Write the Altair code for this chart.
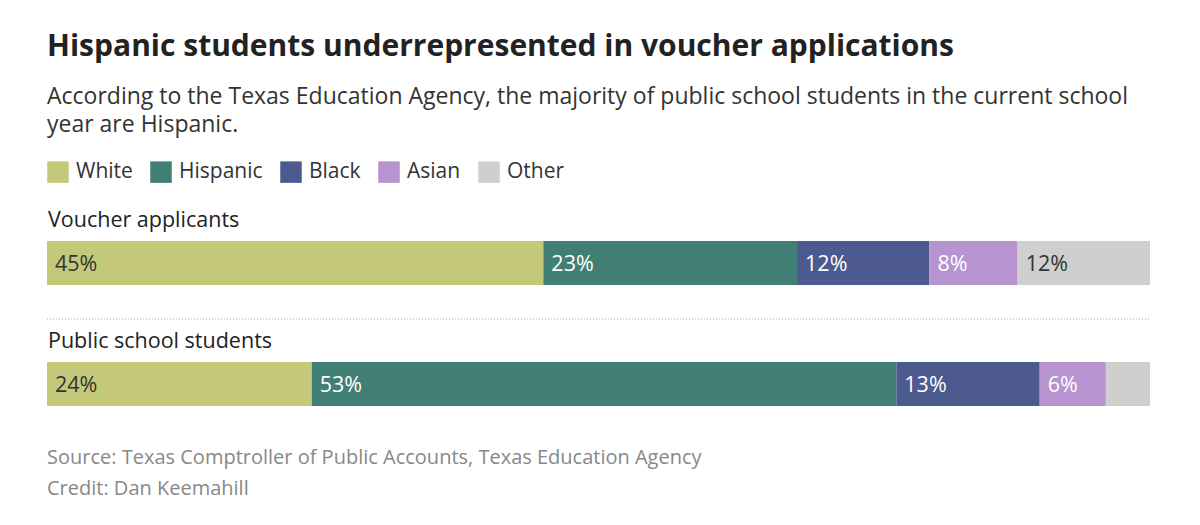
import altair as alt
import pandas as pd

groups = ["Voucher applicants", "Public school students"]
races = ["White", "Hispanic", "Black", "Asian", "Other"]
voucher = [45, 23, 12, 8, 12]
public = [24, 53, 13, 6, 4]
colors = ["#c3c979", "#417f74", "#4c5a8f", "#b793cf", "#cfcfcf"]

title = "Hispanic students underrepresented in voucher applications"
subtitle = [
    "According to the Texas Education Agency, the majority of public school students in the current school",
    "year are Hispanic.",
]
source = "Source: Texas Comptroller of Public Accounts, Texas Education Agency"
credit = "Credit: Dan Keemahill"

rows = []
for g, vals in zip(groups, [voucher, public]):
    start = 0
    for r, v in zip(races, vals):
        rows.append({"group": g, "race": r, "value": v, "start": start, "end": start + v,
                     "label": f"{v}%", "order": races.index(r)})
        start += v
df = pd.DataFrame(rows)
gdf = pd.DataFrame({"group": groups})

FONT = "Open Sans"
W, H = 1103, 525

yscale = alt.Scale(domain=groups, range=[241, 406], paddingInner=0.636, paddingOuter=0)
xscale = alt.Scale(domain=[0, 100], nice=False, zero=True)

bars = alt.Chart(df).mark_bar(size=44).encode(
    x=alt.X("start:Q", scale=xscale, axis=None),
    x2="end:Q",
    y=alt.Y("group:N", scale=yscale, axis=None),
    color=alt.Color(
        "race:N",
        scale=alt.Scale(domain=races, range=colors),
        sort=races,
        legend=alt.Legend(
            title=None, orient="none", legendX=0, legendY=161, direction="horizontal",
            symbolType="square", symbolSize=462, symbolStrokeWidth=0, symbolOpacity=1,
            labelFont=FONT, labelFontSize=21, labelColor="#333", labelOffset=7,
            columnPadding=17, labelLimit=300,
        ),
    ),
)

labels = alt.Chart(df).transform_filter("datum.value >= 5").mark_text(
    align="left", baseline="alphabetic", dx=8, dy=8, font=FONT, fontSize=21.5
).encode(
    x=alt.X("start:Q", scale=xscale),
    y=alt.Y("group:N", scale=yscale),
    text="label:N",
    color=alt.condition(
        "datum.race == 'White' || datum.race == 'Other'", alt.value("#333333"), alt.value("#ffffff")
    ),
)

group_labels = alt.Chart(gdf).mark_text(
    align="left", baseline="alphabetic", dy=-36, font=FONT, fontSize=21.5, color="#222"
).encode(
    x=alt.value(1),
    y=alt.Y("group:N", scale=yscale),
    text="group:N",
)

sep = alt.Chart(gdf).mark_rule(strokeDash=[1, 2], color="#c8c8c8", strokeWidth=1).encode(
    x=alt.value(0), x2=alt.value(W), y=alt.value(319)
)

def txt(t, y, size, color, weight="normal"):
    return alt.Chart(pd.DataFrame({"t": [t]})).mark_text(
        align="left", baseline="alphabetic", font=FONT, fontSize=size, color=color, fontWeight=weight
    ).encode(x=alt.value(0), y=alt.value(y), text="t:N")

texts = [
    txt(title, 56, 30, "#222222", "bold"),
    txt(subtitle[0], 104, 23, "#333333"),
    txt(subtitle[1], 132, 23, "#333333"),
    txt(source, 464, 20, "#888888"),
    txt(credit, 495, 20, "#888888"),
]

chart = alt.layer(bars, labels, group_labels, sep, *texts).properties(
    width=W, height=H,
    autosize=alt.AutoSizeParams(type="none"),
    padding={"left": 47, "top": 0, "right": 50, "bottom": 0},
    background="white",
).configure_view(stroke=None)

chart.save("out.html", embed_options={"renderer": "svg", "actions": False})
